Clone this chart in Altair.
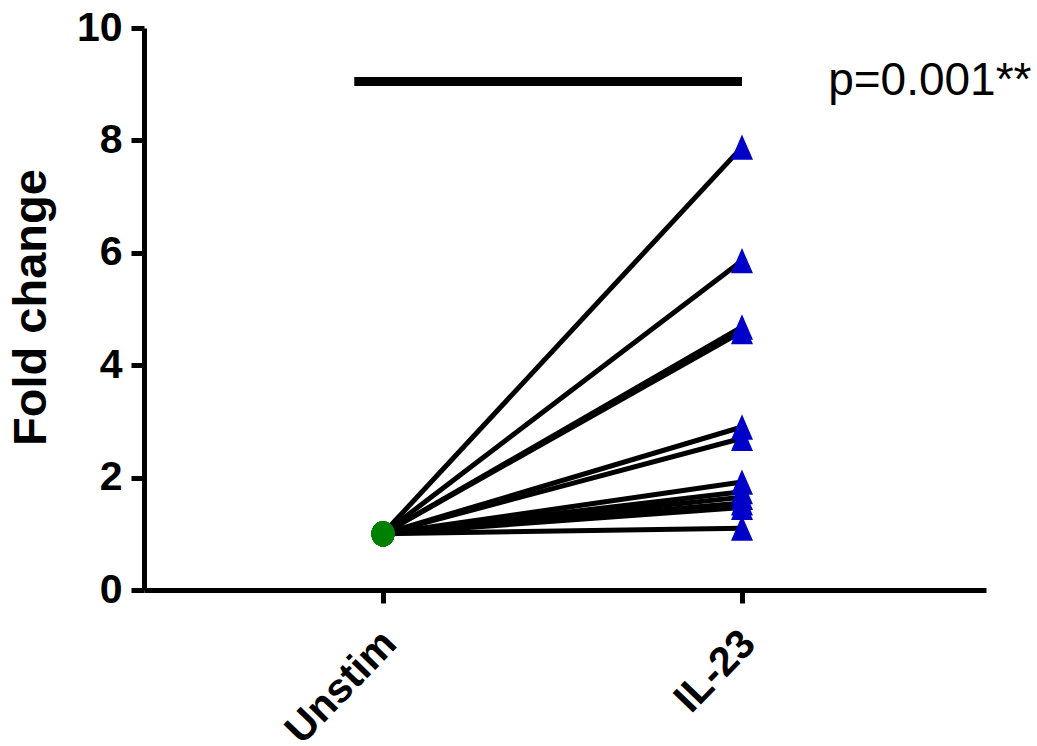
import altair as alt
import pandas as pd

# Paired measurements: every donor starts at 1.0 (Unstim) and moves to its IL-23 value
conditions = ["Unstim", "IL-23"]
unstim_values = [1.0] * 12
il23_values = [7.88, 5.86, 4.68, 4.60, 2.90, 2.70, 1.92, 1.75, 1.65, 1.55, 1.47, 1.10]

# Significance bar and its label
bar_x = [-0.08, 1.0]
bar_y = 9.05
p_label = "p=0.001**"
p_label_x = 1.24

rows = []
for i, (u, s) in enumerate(zip(unstim_values, il23_values)):
    rows.append({"donor": i, "pos": 0, "cond": conditions[0], "value": u})
    rows.append({"donor": i, "pos": 1, "cond": conditions[1], "value": s})
df = pd.DataFrame(rows)

bar_df = pd.DataFrame({"x": [bar_x[0]], "x2": [bar_x[1]], "y": [bar_y]})
label_df = pd.DataFrame({"x": [p_label_x], "y": [bar_y], "text": [p_label]})

FONT = "Liberation Sans"

# upward triangle, a little taller than wide, centred on its value
TRIANGLE = "M0,-1.15L1,1.15L-1,1.15Z"
# slightly tall ellipse for the baseline marker
ELLIPSE = "M-1,0A1,1.1 0 1,0 1,0A1,1.1 0 1,0 -1,0Z"

x_scale = alt.Scale(domain=[-0.6657, 1.6797], nice=False, zero=False)
y_scale = alt.Scale(domain=[0, 10], nice=False)

x_axis = alt.Axis(
    values=[0, 1],
    labelExpr="datum.value == 0 ? 'Unstim' : 'IL-23'",
    title=None,
    grid=False,
    domainWidth=5,
    domainColor="black",
    tickWidth=5,
    tickColor="black",
    tickSize=13,
    labelAngle=-46,
    labelAlign="right",
    labelBaseline="top",
    labelFont=FONT,
    labelFontSize=41,
    labelFontWeight="bold",
    labelColor="black",
    labelPadding=20,
    labelOffset=-8,
)

y_axis = alt.Axis(
    values=[0, 2, 4, 6, 8, 10],
    format="d",
    title="Fold change",
    grid=False,
    domainWidth=5,
    domainColor="black",
    tickWidth=5,
    tickColor="black",
    tickSize=13,
    labelFont=FONT,
    labelFontSize=41,
    labelFontWeight="bold",
    labelColor="black",
    labelPadding=9,
    titleFont=FONT,
    titleFontSize=47,
    titleFontWeight="bold",
    titleColor="black",
    titleAngle=-90,
    titleBaseline="middle",
    titleAlign="center",
    titleX=-113,
    titleY=279,
)

lines = alt.Chart(df).mark_line(color="black", strokeWidth=5).encode(
    x=alt.X("pos:Q", scale=x_scale, axis=x_axis),
    y=alt.Y("value:Q", scale=y_scale, axis=y_axis),
    detail="donor:N",
    order="pos:Q",
)

circles = alt.Chart(df[df["pos"] == 0]).mark_point(
    shape=ELLIPSE, filled=True, size=530, color="#008000", opacity=1
).encode(x=alt.X("pos:Q", scale=x_scale), y=alt.Y("value:Q", scale=y_scale))

triangles = alt.Chart(df[df["pos"] == 1]).mark_point(
    shape=TRIANGLE, filled=True, size=484, color="#0000C8", opacity=1
).encode(x=alt.X("pos:Q", scale=x_scale), y=alt.Y("value:Q", scale=y_scale))

bar = alt.Chart(bar_df).mark_rule(color="black", strokeWidth=9).encode(
    x=alt.X("x:Q", scale=x_scale),
    x2="x2:Q",
    y=alt.Y("y:Q", scale=y_scale),
)

label = alt.Chart(label_df).mark_text(
    font=FONT, fontSize=46, align="left", baseline="middle", color="black"
).encode(
    x=alt.X("x:Q", scale=x_scale),
    y=alt.Y("y:Q", scale=y_scale),
    text="text:N",
)

chart = (
    alt.layer(lines, circles, triangles, bar, label)
    .properties(
        width=842,
        height=562,
        autosize=alt.AutoSizeParams(type="none"),
        padding={"left": 144, "top": 28, "right": 51, "bottom": 156},
        background="white",
    )
    .configure_view(stroke=None)
)

chart.save("out.html", embed_options={"renderer": "svg", "actions": False})
